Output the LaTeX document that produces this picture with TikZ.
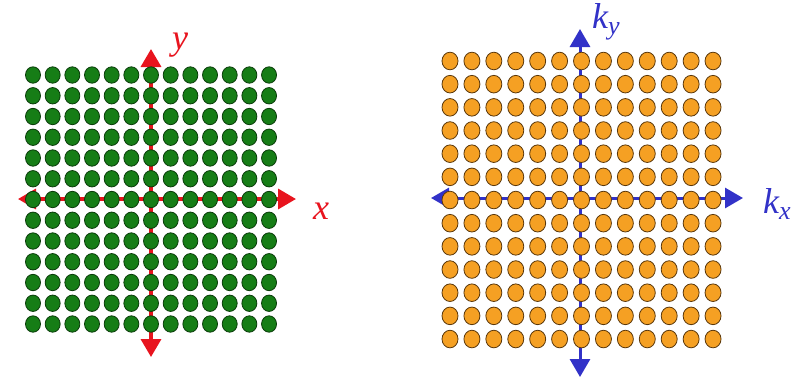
\documentclass[tikz,border=0pt]{standalone}
\usepackage{fontspec}
\setmainfont{Liberation Serif}
\usetikzlibrary{arrows.meta}
\definecolor{dotgreen}{RGB}{22,125,22}
\definecolor{dotgreenline}{RGB}{10,60,10}
\definecolor{dotorange}{RGB}{245,160,35}
\definecolor{dotorangeline}{RGB}{90,55,10}
\definecolor{axred}{RGB}{232,20,30}
\definecolor{axblue}{RGB}{50,50,200}
\tikzset{
  redaxis/.style={draw=axred, line width=3.5pt, {Triangle[length=18pt,width=20pt]}-{Triangle[length=18pt,width=20pt]}},
  blueaxis/.style={draw=axblue, line width=3pt, {Triangle[length=18pt,width=20pt]}-{Triangle[length=18pt,width=20pt]}},
  gdot/.style={fill=dotgreen, draw=dotgreenline, line width=0.8pt},
  odot/.style={fill=dotorange, draw=dotorangeline, line width=0.8pt},
  lab/.style={font=\fontsize{36}{40}\selectfont\itshape, inner sep=0pt},
  subs/.style={}
}
\newcommand{\mysub}[1]{\raisebox{-6pt}{\fontsize{26}{28}\selectfont\itshape #1}}
\begin{document}
\begin{tikzpicture}[x=1pt,y=-1pt]
\useasboundingbox[fill=white] (0,0) rectangle (804,378);
% left axes
\coordinate (lW) at (18,199);
\coordinate (lE) at (296,199);
\coordinate (lN) at (151,49);
\coordinate (lS) at (151,357);
\draw[redaxis] (lW) -- (lE);
\draw[redaxis] (lN) -- (lS);
% left dots
\foreach \i in {0,...,12}{
  \foreach \j in {0,...,12}{
    \fill[gdot] ({33+\i*19.67},{75+\j*20.75}) ellipse (7.5 and 8.2);
  }
}
\node[lab, text=axred] (ly) at (180,45) {y};
\node[lab, text=axred] (lx) at (321,211) {x};
% right axes
\coordinate (rW) at (431,198);
\coordinate (rE) at (743,198);
\coordinate (rN) at (580,29);
\coordinate (rS) at (580,377);
\draw[blueaxis] (rW) -- (rE);
\draw[blueaxis] (rN) -- (rS);
\foreach \i in {0,...,12}{
  \foreach \j in {0,...,12}{
    \fill[odot] ({450+\i*21.92},{61+\j*23.17}) ellipse (8 and 8.8);
  }
}
\node[lab, text=axblue] (rky) at (606,22) {k\mysub{y}};
\node[lab, text=axblue] (rkx) at (777,204) {k\mysub{x}};
\end{tikzpicture}
\end{document}
